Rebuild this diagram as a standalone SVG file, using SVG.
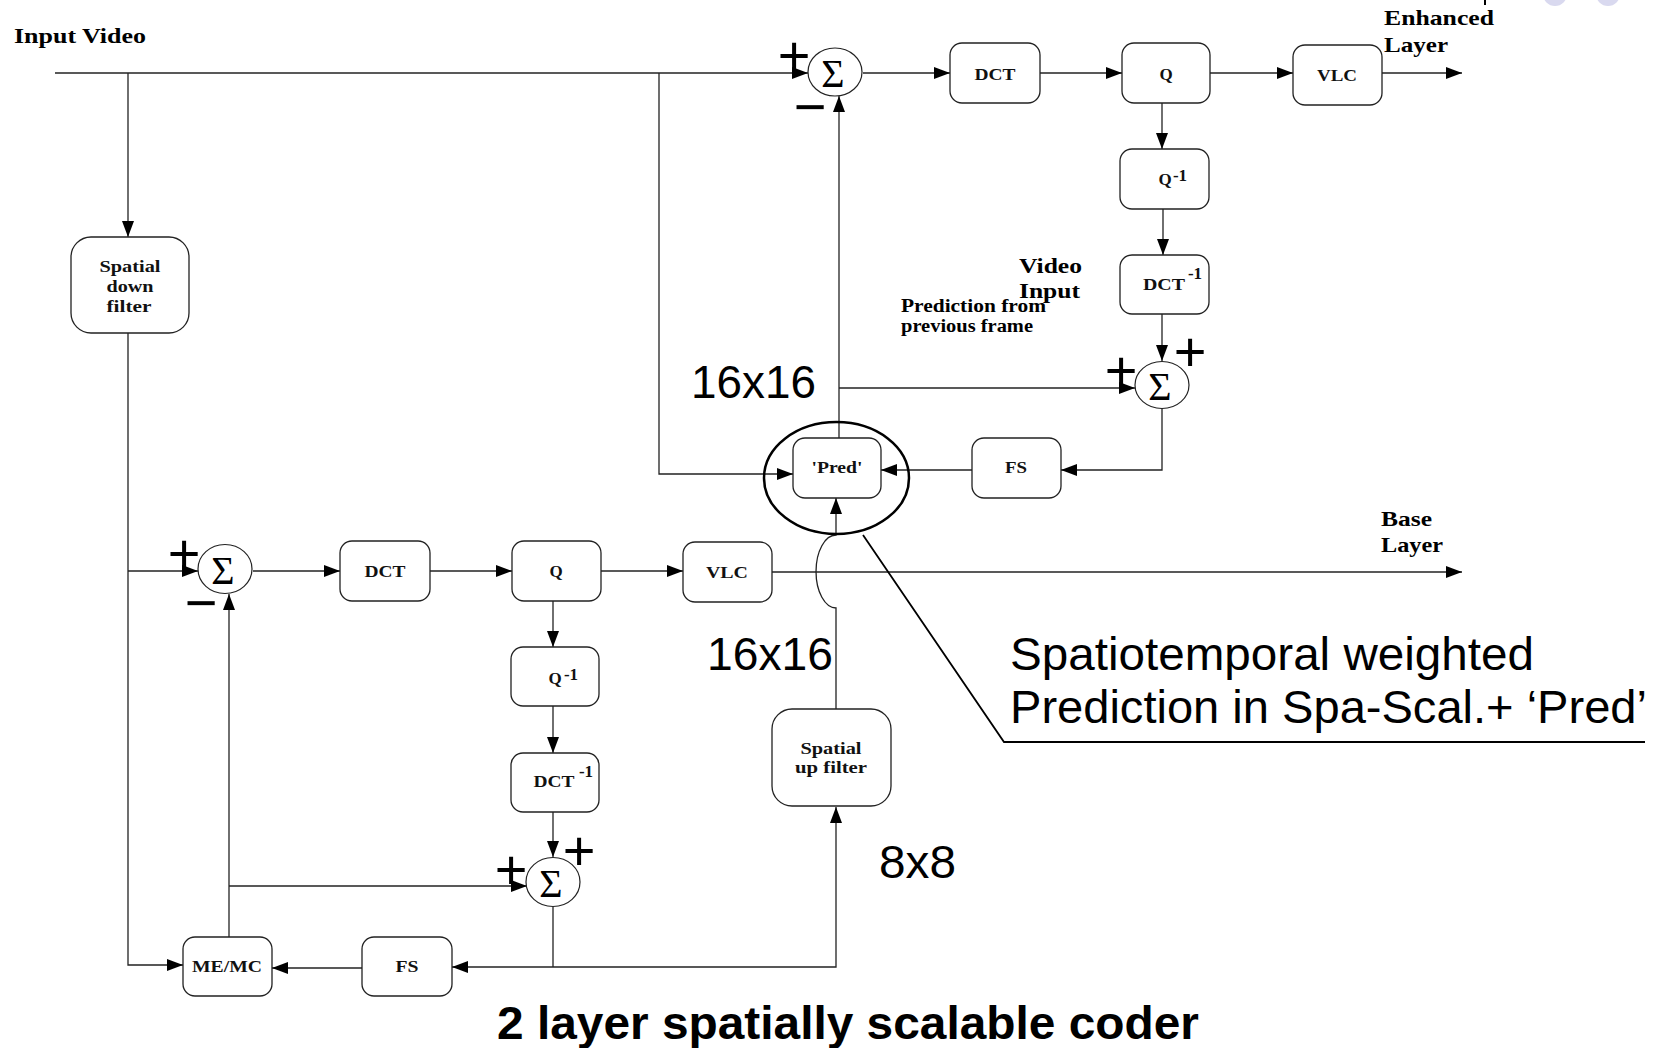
<svg xmlns="http://www.w3.org/2000/svg" width="1659" height="1048" viewBox="0 0 1659 1048">
<defs>
<marker id="ah" markerUnits="userSpaceOnUse" markerWidth="16" markerHeight="12" refX="16" refY="6" orient="auto"><path d="M0,0 L16,6 L0,12 z" fill="#000"/></marker>
<style>
.box{fill:#fff;stroke:#222;stroke-width:1.3}
.sum{fill:#fff;stroke:#222;stroke-width:1.2}
.ln{fill:none;stroke:#222;stroke-width:1.3}
.ar{marker-end:url(#ah)}
.bl{font-family:"Liberation Serif","Times New Roman",serif;font-weight:bold;font-size:17px;fill:#111;text-anchor:middle}
.lbl{font-family:"Liberation Serif","Times New Roman",serif;font-weight:bold;font-size:22px;fill:#000}
.sm{font-family:"Liberation Serif","Times New Roman",serif;font-weight:bold;font-size:18px;fill:#000}
.sig{font-family:"Liberation Serif","Times New Roman",serif;font-size:40px;fill:#000;text-anchor:middle}
.pm{font-family:"Liberation Sans",Arial,sans-serif;font-size:56px;fill:#000;text-anchor:middle}
.big{font-family:"Liberation Sans",Arial,sans-serif;font-size:46px;fill:#000}
</style>
</defs>
<rect width="1659" height="1048" fill="#fff"/>
<circle cx="1555" cy="-6" r="12" fill="#d9d9ef"/>
<circle cx="1608" cy="-6" r="12" fill="#d9d9ef"/>
<line x1="1485" y1="0" x2="1485" y2="5" stroke="#000" stroke-width="2"/>

<g id="connectors">
<path class="ln ar" d="M55,73 L808,73"/>
<path class="ln ar" d="M128,73 L128,237"/>
<path class="ln ar" d="M659,73 L659,474 L793,474"/>
<path class="ln ar" d="M863,73 L950,73"/>
<path class="ln ar" d="M1040,73 L1122,73"/>
<path class="ln ar" d="M1210,73 L1293,73"/>
<path class="ln ar" d="M1382,73 L1462,73"/>
<path class="ln ar" d="M1162,103 L1162,149"/>
<path class="ln ar" d="M1163,209 L1163,255"/>
<path class="ln ar" d="M1162,314 L1162,361"/>
<path class="ln ar" d="M839,438 L839,96"/>
<path class="ln ar" d="M839,388 L1135,388"/>
<path class="ln ar" d="M1162,408 L1162,470 L1061,470"/>
<path class="ln ar" d="M972,470 L881,470"/>
<path class="ln ar" d="M836,709 L836,608 A20,36.5 0 0 1 836,535 L836,498"/>
<path class="ln ar" d="M128,333 L128,965 L183,965"/>
<path class="ln ar" d="M128,571 L198,571"/>
<path class="ln ar" d="M253,571 L340,571"/>
<path class="ln ar" d="M430,571 L512,571"/>
<path class="ln ar" d="M601,571 L683,571"/>
<path class="ln ar" d="M772,572 L1462,572"/>
<path class="ln ar" d="M553,601 L553,647"/>
<path class="ln ar" d="M553,706 L553,753"/>
<path class="ln ar" d="M553,812 L553,857"/>
<path class="ln ar" d="M229,937 L229,594"/>
<path class="ln ar" d="M229,886 L527,886"/>
<path class="ln" d="M553,907 L553,967"/>
<path class="ln ar" d="M553,967 L452,967"/>
<path class="ln ar" d="M553,967 L836,967 L836,807"/>
<path class="ln ar" d="M362,968 L272,968"/>
</g>

<g id="n_sdf">
<rect class="box" x="71" y="237" width="118" height="96" rx="20"/>
<text class="bl" x="130" y="272" font-size="16" textLength="61" lengthAdjust="spacingAndGlyphs">Spatial</text>
<text class="bl" x="130" y="292" font-size="16" textLength="47" lengthAdjust="spacingAndGlyphs">down</text>
<text class="bl" x="129" y="312" font-size="16" textLength="45" lengthAdjust="spacingAndGlyphs">filter</text>
</g>

<g id="n_esum1">
<ellipse class="sum" cx="835" cy="72" rx="27" ry="24"/>
<text class="sig" x="833" y="87">Σ</text>
<text class="pm" x="794" y="75">+</text>
<text class="pm" x="810" y="126">−</text>
</g>
<g id="n_edct"><rect class="box" x="950" y="43" width="90" height="60" rx="12"/><text class="bl" x="995" y="80" textLength="41" lengthAdjust="spacingAndGlyphs">DCT</text></g>
<g id="n_eq"><rect class="box" x="1122" y="43" width="88" height="60" rx="12"/><text class="bl" x="1166" y="80">Q</text></g>
<g id="n_evlc"><rect class="box" x="1293" y="45" width="89" height="60" rx="12"/><text class="bl" x="1337" y="81" textLength="40" lengthAdjust="spacingAndGlyphs">VLC</text></g>
<g id="n_eqi"><rect class="box" x="1120" y="149" width="89" height="60" rx="12"/><text class="bl" x="1165" y="185">Q</text><text class="bl" x="1180" y="181" font-size="15">-1</text></g>
<g id="n_edcti"><rect class="box" x="1120" y="255" width="89" height="59" rx="12"/><text class="bl" x="1164" y="290" font-weight="normal" textLength="42" lengthAdjust="spacingAndGlyphs">DCT</text><text class="bl" x="1195" y="279" font-size="15">-1</text></g>
<g id="n_esum2">
<ellipse class="sum" cx="1162" cy="385" rx="27" ry="23.5"/>
<text class="sig" x="1160" y="400">Σ</text>
<text class="pm" x="1121" y="390">+</text>
<text class="pm" x="1190" y="371">+</text>
</g>
<g id="n_pred"><rect class="box" x="793" y="438" width="88" height="60" rx="12"/><text class="bl" x="837" y="473" font-size="16" textLength="51" lengthAdjust="spacingAndGlyphs">'Pred'</text></g>
<g id="n_efs"><rect class="box" x="972" y="438" width="89" height="60" rx="12"/><text class="bl" x="1016" y="473" textLength="22" lengthAdjust="spacingAndGlyphs">FS</text></g>

<g id="n_bsum1">
<ellipse class="sum" cx="225" cy="569" rx="27" ry="24.5"/>
<text class="sig" x="223" y="584">Σ</text>
<text class="pm" x="184" y="573">+</text>
<text class="pm" x="201" y="622">−</text>
</g>
<g id="n_bdct"><rect class="box" x="340" y="541" width="90" height="60" rx="12"/><text class="bl" x="385" y="577" textLength="41" lengthAdjust="spacingAndGlyphs">DCT</text></g>
<g id="n_bq"><rect class="box" x="512" y="541" width="89" height="60" rx="12"/><text class="bl" x="556" y="577">Q</text></g>
<g id="n_bvlc"><rect class="box" x="683" y="542" width="89" height="60" rx="12"/><text class="bl" x="727" y="578" textLength="42" lengthAdjust="spacingAndGlyphs">VLC</text></g>
<g id="n_bqi"><rect class="box" x="511" y="647" width="88" height="59" rx="12"/><text class="bl" x="555" y="684">Q</text><text class="bl" x="571" y="680" font-size="15">-1</text></g>
<g id="n_bdcti"><rect class="box" x="511" y="753" width="88" height="59" rx="12"/><text class="bl" x="554" y="787" font-weight="normal" textLength="41" lengthAdjust="spacingAndGlyphs">DCT</text><text class="bl" x="586" y="777" font-size="15">-1</text></g>
<g id="n_bsum2">
<ellipse class="sum" cx="553" cy="882" rx="27" ry="24.5"/>
<text class="sig" x="551" y="897">Σ</text>
<text class="pm" x="511" y="889">+</text>
<text class="pm" x="579" y="870">+</text>
</g>
<g id="n_upf"><rect class="box" x="772" y="709" width="119" height="97" rx="20"/>
<text class="bl" x="831" y="754" font-size="16" textLength="61" lengthAdjust="spacingAndGlyphs">Spatial</text>
<text class="bl" x="831" y="773" font-size="16" textLength="72" lengthAdjust="spacingAndGlyphs">up filter</text></g>
<g id="n_memc"><rect class="box" x="183" y="937" width="89" height="59" rx="12"/><text class="bl" x="227" y="972" textLength="70" lengthAdjust="spacingAndGlyphs">ME/MC</text></g>
<g id="n_bfs"><rect class="box" x="362" y="937" width="90" height="59" rx="12"/><text class="bl" x="407" y="972" textLength="23" lengthAdjust="spacingAndGlyphs">FS</text></g>

<g id="labels">
<text class="lbl" x="14" y="43" textLength="132" lengthAdjust="spacingAndGlyphs">Input Video</text>
<text class="lbl" x="1384" y="25" textLength="110" lengthAdjust="spacingAndGlyphs">Enhanced</text>
<text class="lbl" x="1384" y="52" textLength="64" lengthAdjust="spacingAndGlyphs">Layer</text>
<text class="lbl" x="1381" y="526" textLength="51" lengthAdjust="spacingAndGlyphs">Base</text>
<text class="lbl" x="1381" y="552" textLength="62" lengthAdjust="spacingAndGlyphs">Layer</text>
<text class="lbl" x="1019" y="273" textLength="63" lengthAdjust="spacingAndGlyphs">Video</text>
<text class="lbl" x="1019" y="298" textLength="61" lengthAdjust="spacingAndGlyphs">Input</text>
<text class="sm" x="901" y="312" textLength="145" lengthAdjust="spacingAndGlyphs">Prediction from</text>
<text class="sm" x="901" y="332" textLength="132" lengthAdjust="spacingAndGlyphs">previous frame</text>
<text class="big" x="691" y="398" textLength="125" lengthAdjust="spacingAndGlyphs">16x16</text>
<text class="big" x="707" y="670" textLength="126" lengthAdjust="spacingAndGlyphs">16x16</text>
<text class="big" x="879" y="878" textLength="77" lengthAdjust="spacingAndGlyphs">8x8</text>
</g>

<g id="callout">
<ellipse cx="836.5" cy="478" rx="72.5" ry="56" fill="none" stroke="#000" stroke-width="2.5"/>
<path d="M863,535 L1004,742 L1645,742" fill="none" stroke="#000" stroke-width="1.8"/>
<text class="big" x="1010" y="670" font-size="47" textLength="524" lengthAdjust="spacingAndGlyphs">Spatiotemporal weighted</text>
<text class="big" x="1010" y="723" font-size="47" textLength="637" lengthAdjust="spacingAndGlyphs">Prediction in Spa-Scal.+ ‘Pred’</text>
</g>

<text id="title" x="848" y="1039" font-family="Liberation Sans, Arial, sans-serif" font-weight="bold" font-size="47" text-anchor="middle" textLength="702" lengthAdjust="spacingAndGlyphs">2 layer spatially scalable coder</text>
</svg>
